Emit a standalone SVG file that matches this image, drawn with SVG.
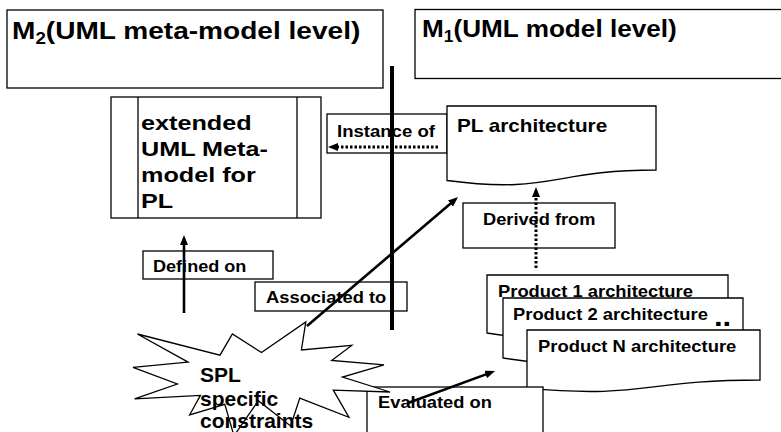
<svg xmlns="http://www.w3.org/2000/svg" width="781" height="432" viewBox="0 0 781 432">
  <style>
    .box { fill: #fff; stroke: #000; stroke-width: 1.3; }
    .thin { fill: none; stroke: #000; stroke-width: 1.3; }
    .lbl { font-family: "Liberation Sans", Arial, sans-serif; font-weight: bold; fill: #000; }
    .solid { fill: none; stroke: #000; stroke-width: 2.6; }
    .dotted { fill: none; stroke: #000; stroke-width: 3; stroke-dasharray: 2.5 2; }
  </style>
  <defs>
    <marker id="head" markerUnits="userSpaceOnUse" markerWidth="10" markerHeight="8" viewBox="0 0 10 8" refX="1" refY="4" orient="auto">
      <path d="M0,0 L10,4 L0,8 z" fill="#000"/>
    </marker>
  </defs>

  <!-- level headers -->
  <g id="m2-level">
    <rect class="box" x="7" y="10" width="376" height="78"/>
    <text class="lbl" font-size="24" transform="translate(12,39) scale(1.17,1)">M<tspan font-size="16" dy="5">2</tspan><tspan dy="-5">(UML meta-model level)</tspan></text>
  </g>
  <g id="m1-level">
    <rect class="box" x="415" y="9.5" width="370" height="69"/>
    <text class="lbl" font-size="24" transform="translate(422,37) scale(1.09,1)">M<tspan font-size="16" dy="5">1</tspan><tspan dy="-5">(UML model level)</tspan></text>
  </g>

  <!-- meta-model (predefined process shape) -->
  <g id="metamodel">
    <rect class="box" x="111" y="97" width="210" height="121"/>
    <line class="thin" x1="138" y1="97" x2="138" y2="218"/>
    <line class="thin" x1="297" y1="97" x2="297" y2="218"/>
    <text class="lbl" font-size="21" transform="translate(141,130) scale(1.2,1)">extended</text>
    <text class="lbl" font-size="21" transform="translate(141,156) scale(1.2,1)">UML Meta-</text>
    <text class="lbl" font-size="21" transform="translate(141,182) scale(1.2,1)">model for</text>
    <text class="lbl" font-size="21" transform="translate(141,208) scale(1.2,1)">PL</text>
  </g>

  <g id="instance-of">
    <rect class="box" x="327" y="114" width="120" height="39"/>
    <text class="lbl" font-size="16" transform="translate(337,137) scale(1.16,1)">Instance of</text>
  </g>

  <g id="pl-architecture">
    <path class="box" d="M447,106 H656 V170 C551.5,170 551.5,194.4 447,180.5 Z"/>
    <text class="lbl" font-size="18" transform="translate(457,132) scale(1.15,1)">PL architecture</text>
  </g>

  <g id="derived-from">
    <rect class="box" x="463" y="203" width="152" height="45"/>
    <text class="lbl" font-size="16" transform="translate(483,225) scale(1.14,1)">Derived from</text>
  </g>

  <g id="defined-on">
    <rect class="box" x="143" y="251" width="130" height="28"/>
    <text class="lbl" font-size="16" transform="translate(153,272) scale(1.13,1)">Defined on</text>
  </g>

  <g id="associated-to">
    <rect class="box" x="255" y="282" width="152" height="29"/>
    <text class="lbl" font-size="16" transform="translate(266,303) scale(1.147,1)">Associated to</text>
  </g>

  <!-- stacked product documents -->
  <g id="product-1">
    <path class="box" d="M487,275 H728 V324.8 C607.5,324.8 607.5,351.6 487,333 Z"/>
    <text class="lbl" font-size="16" transform="translate(498,297) scale(1.148,1)">Product 1 architecture</text>
  </g>
  <g id="product-2">
    <path class="box" d="M503,298 H743 V349.5 C623,349.5 623,377 503,358 Z"/>
    <text class="lbl" font-size="16" transform="translate(513,320) scale(1.148,1)">Product 2 architecture</text>
    <text class="lbl" font-size="27" transform="translate(714,326) scale(1.15,1)">..</text>
  </g>
  <g id="product-n">
    <path class="box" d="M527,330 H760 V380 C643.5,380 643.5,399 527,388.2 Z"/>
    <text class="lbl" font-size="16" transform="translate(538,352) scale(1.15,1)">Product N architecture</text>
  </g>

  <g id="evaluated-on">
    <rect class="box" x="367" y="387" width="176" height="60"/>
    <text class="lbl" font-size="16" transform="translate(378,408) scale(1.145,1)">Evaluated on</text>
  </g>

  <!-- explosion shape -->
  <g id="spl-constraints">
    <polygon class="box" points="261.5,352.5 305.8,321.9 301.4,350 351.7,345.4 331.7,360.5 384,364.8 342.5,377.1 390,392 333.3,390.1 348.9,417.3 299.8,398.1 290.6,426 258.3,400.7 234,435.8 224.8,404.3 189.7,414.8 200.4,395.4 134.6,398.8 177.3,384 133,367.3 188.1,362.1 137.4,334 220,355.2 232.4,334"/>
    <text class="lbl" font-size="21" x="200" y="382">SPL</text>
    <text class="lbl" font-size="21" x="200" y="406">specific</text>
    <text class="lbl" font-size="21" x="200" y="428">constraints</text>
  </g>

  <!-- connectors -->
  <g id="connectors">
    <line class="dotted" x1="438" y1="147" x2="337" y2="147" marker-end="url(#head)"/>
    <line class="dotted" x1="536" y1="268" x2="536" y2="196" marker-end="url(#head)"/>
    <line class="solid" x1="184" y1="313" x2="184" y2="244" marker-end="url(#head)"/>
    <line class="solid" x1="307" y1="326" x2="451.2" y2="202.9" marker-end="url(#head)"/>
    <line class="solid" x1="408" y1="403" x2="486.6" y2="374.1" marker-end="url(#head)"/>
  </g>

  <!-- level separator -->
  <g id="separator">
    <rect x="390" y="66" width="4" height="264" fill="#000"/>
  </g>
</svg>
